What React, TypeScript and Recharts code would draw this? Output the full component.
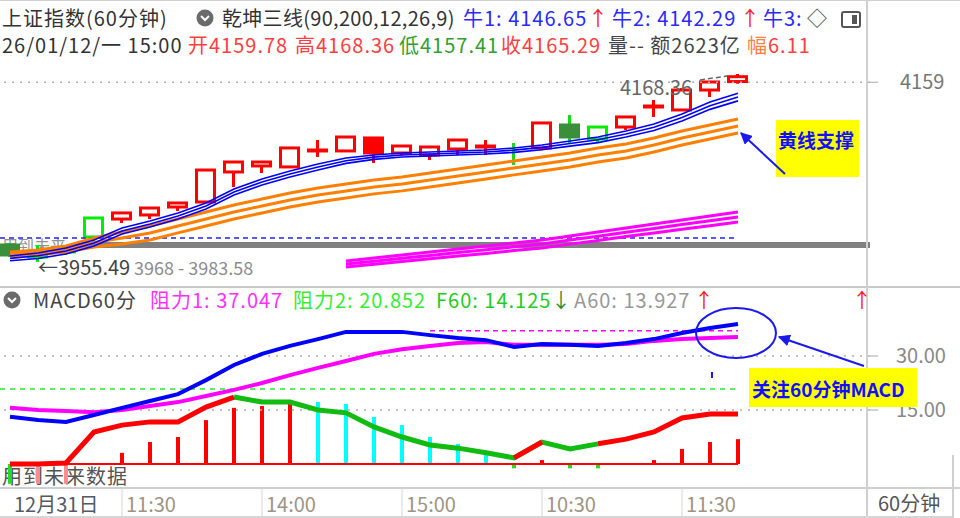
import React from 'react'
import {
  ComposedChart, Bar, Line, XAxis, YAxis, ReferenceLine, ReferenceArea, Cell
} from 'recharts'

const FONT = '"Noto Sans CJK SC", "Noto Sans", sans-serif'

// 60分钟K线，12/31 ~ 1/12
const opens = [3974.7, 3965.6, 3966.8, 3983.8, 4004.1, 4008.7, 4017.7, 4023.4, 4057.4, 4064.2, 4063.1, 4081.2, 4081.2, 4095.9, 4078.9, 4076.6, 4083.4, 4085.7, 4085.5, 4084.6, 4110.6, 4094.8, 4108.3, 4131.0, 4127.6, 4150.2, 4159.78]
const closes = [3963.4, 3961.1, 3969.0, 4005.3, 4011.0, 4016.6, 4022.3, 4059.6, 4068.7, 4068.7, 4084.6, 4082.3, 4097.0, 4078.9, 4086.8, 4085.7, 4093.6, 4086.8, 4085.0, 4112.9, 4097.0, 4108.3, 4119.7, 4132.1, 4150.2, 4159.3, 4165.29]
const highs = [3977.0, 3974.7, 3972.4, 4005.3, 4011.0, 4016.6, 4022.3, 4059.6, 4068.7, 4068.7, 4084.6, 4093.6, 4097.0, 4095.9, 4086.8, 4085.7, 4093.6, 4093.6, 4090.2, 4112.9, 4121.9, 4109.4, 4119.7, 4138.9, 4152.5, 4159.3, 4168.36]
const lows = [3961.1, 3955.49, 3963.4, 3978.1, 3999.6, 4004.1, 4013.2, 4023.0, 4040.4, 4056.2, 4063.0, 4074.4, 4081.0, 4067.6, 4076.0, 4071.0, 4076.6, 4076.6, 4065.3, 4082.0, 4090.2, 4091.4, 4105.0, 4119.7, 4127.4, 4142.3, 4157.41]
// up 红空心, upFill 红实心, dn 绿实心, dnHollow 绿空心, tick 只有影线
const kinds = ['dn', 'dnHollow', 'dnHollow', 'dnHollow', 'up', 'up', 'up', 'up', 'up', 'up', 'up', 'up', 'up', 'upFill', 'up', 'up', 'up', 'up', 'tick', 'up', 'dn', 'dnHollow', 'up', 'up', 'up', 'up', 'up']

// 乾坤三线：牛1/牛2/牛3（蓝），黄线（橙），底线（紫）
const blue1 = [3962.3, 3965.7, 3971.3, 3980.4, 3994.0, 4001.9, 4011.0, 4022.3, 4038.2, 4049.5, 4058.5, 4066.5, 4073.3, 4076.7, 4078.9, 4080.0, 4081.2, 4082.3, 4084.6, 4088.0, 4092.5, 4097.0, 4103.8, 4111.7, 4123.1, 4136.7, 4146.65]
const blue2 = [3959.6, 3962.5, 3967.9, 3977.0, 3990.6, 3998.5, 4007.6, 4018.9, 4034.8, 4046.1, 4055.1, 4063.1, 4070.2, 4074.2, 4076.6, 4077.7, 4078.9, 4080.0, 4082.1, 4085.3, 4089.6, 4093.8, 4100.4, 4108.0, 4119.1, 4132.5, 4142.29]
const blue3 = [3956.9, 3959.4, 3964.5, 3973.6, 3987.2, 3995.1, 4004.2, 4015.5, 4031.4, 4042.7, 4051.7, 4059.7, 4067.1, 4071.7, 4074.3, 4075.4, 4076.6, 4077.7, 4079.6, 4082.6, 4086.7, 4090.6, 4097.0, 4104.3, 4115.1, 4128.3, 4137.9]
const orange1 = [3966.8, 3969.1, 3973.6, 3982.7, 3989.5, 3996.2, 4004.2, 4012.1, 4020.0, 4026.8, 4033.6, 4039.3, 4043.8, 4048.4, 4051.8, 4056.3, 4060.8, 4065.3, 4069.9, 4074.4, 4078.9, 4084.6, 4089.1, 4095.9, 4103.8, 4110.6, 4117.4]
const orange2 = [3964.5, 3966.3, 3970.2, 3977.6, 3982.7, 3988.3, 3996.3, 4004.2, 4012.1, 4018.9, 4025.7, 4031.4, 4035.9, 4040.5, 4043.9, 4048.4, 4052.9, 4057.4, 4062.0, 4066.5, 4071.0, 4076.7, 4081.2, 4088.0, 4095.9, 4102.7, 4109.5]
const orange3 = [3962.2, 3963.5, 3966.8, 3972.5, 3975.9, 3980.4, 3988.4, 3996.3, 4004.2, 4011.0, 4017.8, 4023.5, 4028.0, 4032.6, 4036.0, 4040.5, 4045.0, 4049.5, 4054.1, 4058.6, 4063.1, 4068.8, 4073.3, 4080.1, 4088.0, 4094.8, 4101.6]
const pink1 = [null, null, null, null, null, null, null, null, null, null, null, null, 3956.6, 3960.0, 3963.4, 3966.8, 3970.2, 3973.6, 3977.0, 3980.4, 3984.9, 3989.5, 3994.0, 3998.5, 4003.1, 4007.6, 4012.1]
const pink2 = [null, null, null, null, null, null, null, null, null, null, null, null, 3953.2, 3956.4, 3959.7, 3962.9, 3966.2, 3969.4, 3972.7, 3975.9, 3980.3, 3984.7, 3989.1, 3993.4, 3997.8, 4002.1, 4006.4]
const pink3 = [null, null, null, null, null, null, null, null, null, null, null, null, 3949.8, 3952.8, 3956.0, 3959.0, 3962.2, 3965.2, 3968.4, 3971.4, 3975.7, 3979.9, 3984.2, 3988.3, 3992.5, 3996.6, 4000.7]
const supportLine = 3982.6
const grayBand = [3971.3, 3978.1]

// MACD60分
const dif = [13.1, 12.2, 11.7, 13.6, 15.6, 17.5, 19.4, 23.3, 27.5, 30.6, 32.8, 34.7, 36.7, 36.7, 36.7, 35.8, 35.0, 34.4, 32.5, 33.3, 33.1, 32.8, 33.6, 34.7, 36.4, 37.8, 38.9]
const dea = [15.6, 15.0, 14.7, 14.4, 15.0, 16.1, 17.2, 18.9, 20.6, 22.5, 24.7, 26.7, 28.6, 30.6, 31.9, 32.8, 33.6, 33.9, 33.1, 33.1, 33.1, 33.1, 33.3, 34.2, 34.7, 35.0, 35.3]
const hist = [-5.5, -5.5, -5.5, 0, 3.1, 6.1, 7.5, 12.2, 15.6, 16.1, 17.5, 17.2, 16.7, 13.1, 10.8, 7.5, 5.6, 2.5, -1.2, 1.1, -1.2, -1.2, 0, 1.1, 4.2, 6.1, 6.9]
const histKinds = ['g', 'p', 'p', 'r', 'r', 'r', 'r', 'r', 'r', 'r', 'r', 'c', 'c', 'c', 'c', 'c', 'c', 'c', 'g', 'r', 'g', 'g', 'r', 'r', 'r', 'r', 'r']
const powerUp = [0, 0, 0.3, 8.9, 10.8, 11.7, 11.7, 15.8, 18.6, null, null, null, null, null, null, null, null, null, 1.7, 6.1, null, 5.6, 6.9, 8.9, 12.8, 13.9, 13.9]
const powerDown = [null, null, null, null, null, null, null, null, 18.6, 17.2, 17.2, 15.0, 14.2, 10.3, 7.5, 5.3, 4.4, 3.1, 1.7, 6.1, 4.2, 5.6, null, null, null, null, null]
const resist1 = 37.047
const resist2 = 20.852

const TIME_TICKS_IDX = [4, 9, 14, 19, 24]
const TIME_LABELS = ['12月31日', '11:30', '14:00', '15:00', '10:30', '11:30']

const X_MIN = -10 / 28
const X_MAX = 860 / 28

const kRows = opens.map((o, i) => ({
  x: i, open: o, close: closes[i], high: highs[i], low: lows[i], kind: kinds[i],
  b1: blue1[i], b2: blue2[i], b3: blue3[i],
  o1: orange1[i], o2: orange2[i], o3: orange3[i],
  p1: pink1[i], p2: pink2[i], p3: pink3[i],
}))

const mRows = dif.map((d, i) => ({
  x: i, dif: d, dea: dea[i], hist: hist[i], hk: histKinds[i],
  up: powerUp[i], dn: powerDown[i],
}))

const CANDLE_STYLE: Record<string, { stroke: string; fill: string; wick: string }> = {
  up: { stroke: '#ff0000', fill: '#ffffff', wick: '#ff0000' },
  upFill: { stroke: '#ff0000', fill: '#ff0000', wick: '#ff0000' },
  dn: { stroke: '#3b8f3b', fill: '#3b8f3b', wick: '#11dd11' },
  dnHollow: { stroke: '#00ee00', fill: '#ffffff', wick: '#00ee00' },
  tick: { stroke: '#11dd11', fill: 'none', wick: '#11dd11' },
}

const HIST_COLOR: Record<string, string> = {
  r: '#ff0000', c: '#00ffff', g: '#22dd22', p: '#ff8c8c',
}

function Candle(props: any) {
  const { x, y, width, height, payload } = props
  const { open, close, high, low, kind } = payload
  const k = height / (high - low)
  const py = (v: number) => y + (high - v) * k
  const cx = x + width / 2
  const st = CANDLE_STYLE[kind]
  const top = py(Math.max(open, close))
  const bot = py(Math.min(open, close))
  return (
    <g>
      <line x1={cx} x2={cx} y1={y} y2={y + height} stroke={st.wick} strokeWidth={3} />
      {kind !== 'tick' && (
        <rect x={x + 1.5} y={top} width={width - 3} height={Math.max(bot - top, 1)}
          fill={st.fill} stroke={st.stroke} strokeWidth={3} />
      )}
    </g>
  )
}

function TimeTick(props: any) {
  const { x, y, payload } = props
  const i = TIME_TICKS_IDX.indexOf(payload.value)
  const first = i < 0
  const label = first ? TIME_LABELS[0] : TIME_LABELS[i + 1]
  return (
    <g>
      {!first && <line x1={x} x2={x} y1={y - 8} y2={y + 24} stroke="#d6d6d6" />}
      <text x={first ? x + 14 : x + 4} y={y + 8} dominantBaseline="central"
        fill={first ? '#555a66' : '#a09484'} fontSize={20}>{label}</text>
    </g>
  )
}

const S = (left: number, top: number, color: string, extra: any = {}) => ({
  position: 'absolute' as const, left, top, color, fontSize: 20, lineHeight: '22px',
  letterSpacing: '1px', whiteSpace: 'nowrap' as const, ...extra,
})

function Chevron({ left, top }: { left: number; top: number }) {
  return (
    <svg style={{ position: 'absolute', left, top }} width={18} height={18}>
      <circle cx={9} cy={9} r={8.5} fill="#6a6a6a" />
      <path d="M5,7 L9,11 L13,7" stroke="#fff" strokeWidth={2} fill="none" />
    </svg>
  )
}

export default function App() {
  const lineProps = { dot: false, isAnimationActive: false, connectNulls: false, activeDot: false } as any
  return (
    <div style={{ position: 'absolute', left: 0, top: 0, width: 960, height: 518, background: '#fff', fontFamily: FONT, overflow: 'hidden' }}>
      {/* 表头 */}
      <div style={{ position: 'absolute', left: 0, top: 0, width: 960, height: 1, background: '#d0d0d0' }} />
      <span style={S(2, 7, '#333')}>上证指数(60分钟)</span>
      <Chevron left={196} top={9} />
      <span style={S(222, 7, '#333', { letterSpacing: '0.3px' })}>乾坤三线(90,200,12,26,9)</span>
      <span style={S(463, 7, '#2a2aff')}>牛1: 4146.65</span>
      <span style={S(588, 7, '#ff2020')}>↑</span>
      <span style={S(612, 7, '#2a2aff')}>牛2: 4142.29</span>
      <span style={S(740, 7, '#ff2020')}>↑</span>
      <span style={S(763, 7, '#2a2aff')}>牛3:</span>
      <span style={S(807, 7, '#444')}>◇</span>
      <div style={{ position: 'absolute', left: 841, top: 11, width: 16, height: 13, border: '2px solid #555', borderRadius: 3 }}>
        <div style={{ position: 'absolute', right: 2, top: 2, width: 5, height: 9, background: '#555' }} />
      </div>

      <span style={S(2, 34, '#333')}>26/01/12/一 15:00</span>
      <span style={S(188, 34, '#ff4040')}>开4159.78</span>
      <span style={S(295, 34, '#ff4040')}>高4168.36</span>
      <span style={S(399, 34, '#2fa02f')}>低4157.41</span>
      <span style={S(501, 34, '#ff4040')}>收4165.29</span>
      <span style={S(608, 34, '#444')}>量-- 额2623亿</span>
      <span style={S(747, 34, '#ff4040')}><span style={{ color: '#ff8040' }}>幅</span>6.11</span>

      {/* 主图 */}
      <span style={S(2, 236, '#777', { opacity: 0.8, fontSize: 16, lineHeight: '18px', letterSpacing: 0 })}>用到未来</span>
      <div style={{ position: 'absolute', left: 0, top: 60 }}>
        <ComposedChart width={960} height={225} data={kRows} margin={{ top: 0, right: 0, bottom: 0, left: 0 }}>
          <XAxis dataKey="x" type="number" domain={[X_MIN, X_MAX]} hide allowDataOverflow />
          <YAxis orientation="right" width={90} domain={[3929.4, 4184.2]} allowDataOverflow
            ticks={[4159]} axisLine={false} tickLine={{ stroke: '#aaa' }} tickSize={8} tickMargin={22}
            tick={{ fill: '#777', fontSize: 20 }} />
          <ReferenceLine y={4159} stroke="#b0b0b0" strokeDasharray="2 6" strokeWidth={1.5} />
          <ReferenceArea x1={(75 - 10) / 28} x2={X_MAX} y1={grayBand[0]} y2={grayBand[1]}
            fill="#808080" fillOpacity={1} stroke="none" />
          <ReferenceLine segment={[{ x: X_MIN, y: supportLine }, { x: 26, y: supportLine }]}
            stroke="#2222ff" strokeDasharray="5 4" strokeWidth={1.5} />
          <Line dataKey="p1" stroke="#ff00ff" strokeWidth={3} {...lineProps} />
          <Line dataKey="p2" stroke="#ff00ff" strokeWidth={3} {...lineProps} />
          <Line dataKey="p3" stroke="#ff00ff" strokeWidth={3} {...lineProps} />
          <Line dataKey="o1" stroke="#ff8000" strokeWidth={3} {...lineProps} />
          <Line dataKey="o2" stroke="#ff8000" strokeWidth={3} {...lineProps} />
          <Line dataKey="o3" stroke="#ff8000" strokeWidth={3} {...lineProps} />
          <Line dataKey="b1" stroke="#0000ff" strokeWidth={1.6} {...lineProps} />
          <Line dataKey="b2" stroke="#0000ff" strokeWidth={1.6} {...lineProps} />
          <Line dataKey="b3" stroke="#0000ff" strokeWidth={1.6} {...lineProps} />
          <Bar dataKey={(d: any) => [d.low, d.high]} barSize={21} shape={Candle} isAnimationActive={false} />
        </ComposedChart>
      </div>
      <span style={S(38, 256, '#444', { letterSpacing: 0 })}>←3955.49</span>
      <span style={S(134, 256, '#666', { opacity: 0.75, fontSize: 18, letterSpacing: 0 })}>3968 - 3983.58</span>

      {/* 分隔线 */}
      <div style={{ position: 'absolute', left: 0, top: 286, width: 960, height: 2, background: '#c8c8c8' }} />
      <div style={{ position: 'absolute', left: 866, top: 0, width: 2, height: 518, background: '#cfcfcf' }} />

      {/* MACD 表头 */}
      <Chevron left={3} top={291} />
      <span style={S(33, 289, '#444')}>MACD60分</span>
      <span style={S(150, 289, '#ff30ff')}>阻力1: 37.047</span>
      <span style={S(293, 289, '#33ee33')}>阻力2: 20.852</span>
      <span style={S(436, 289, '#22cc22')}>F60: 14.125</span>
      <span style={S(551, 289, '#2e8b2e')}>↓</span>
      <span style={S(574, 289, '#999')}>A60: 13.927</span>
      <span style={S(694, 289, '#ff2020')}>↑</span>
      <span style={S(852, 289, '#ff2020')}>↑</span>

      <span style={S(2, 465, '#555')}>用到未来数据</span>
      <div style={{ position: 'absolute', left: 0, top: 310 }}>
        <ComposedChart width={960} height={208} data={mRows} margin={{ top: 0, right: 0, bottom: 0, left: 0 }}>
          <XAxis dataKey="x" type="number" domain={[X_MIN, X_MAX]} allowDataOverflow
            ticks={[X_MIN, ...TIME_TICKS_IDX]} interval={0} height={31}
            axisLine={false} tickLine={false} tick={<TimeTick />} />
          <YAxis orientation="right" width={90} domain={[-6.39, 42.78]} allowDataOverflow
            ticks={[15, 30]} tickFormatter={(v: number) => v.toFixed(2)}
            axisLine={false} tickLine={{ stroke: '#aaa' }} tickSize={8} tickMargin={18}
            tick={{ fill: '#888', fontSize: 20 }} />
          <ReferenceLine y={30} stroke="#b0b0b0" strokeDasharray="2 6" strokeWidth={1.5} />
          <ReferenceLine y={15} stroke="#b0b0b0" strokeDasharray="2 6" strokeWidth={1.5} />
          <ReferenceLine segment={[{ x: 15, y: resist1 }, { x: 26, y: resist1 }]}
            stroke="#ff00ff" strokeDasharray="5 4" strokeWidth={1.5} />
          <ReferenceLine segment={[{ x: X_MIN, y: resist2 }, { x: 26, y: resist2 }]}
            stroke="#22ee22" strokeDasharray="5 5" strokeWidth={1.5} />
          <ReferenceLine segment={[{ x: 0, y: 0 }, { x: 26, y: 0 }]} stroke="#ff0000" strokeWidth={2} />
          <Line dataKey="dn" stroke="#11bb11" strokeWidth={5} {...lineProps} />
          <Line dataKey="up" stroke="#ff0000" strokeWidth={5} {...lineProps} />
          <Bar dataKey="hist" barSize={4} isAnimationActive={false}>
            {mRows.map((r, i) => <Cell key={i} fill={HIST_COLOR[r.hk]} />)}
          </Bar>
          <Line dataKey="dea" stroke="#ff00ff" strokeWidth={4} {...lineProps} />
          <Line dataKey="dif" stroke="#0000ff" strokeWidth={4} {...lineProps} />
        </ComposedChart>
      </div>

      {/* 底部时间轴 */}
      <div style={{ position: 'absolute', left: 0, top: 487, width: 960, height: 2, background: '#cfcfcf' }} />
      <div style={{ position: 'absolute', left: 0, top: 516, width: 954, height: 2, background: '#d6d6d6' }} />
      <div style={{ position: 'absolute', left: 952, top: 455, width: 2, height: 63, background: '#cfcfcf' }} />
      <span style={S(878, 492, '#555', { letterSpacing: 0 })}>60分钟</span>

      {/* 标注 */}
      <svg style={{ position: 'absolute', left: 0, top: 0, pointerEvents: 'none' }} width={960} height={518}>
        <defs>
          <marker id="ah" viewBox="0 0 10 10" refX="9" refY="5" markerWidth="6" markerHeight="6" orient="auto">
            <path d="M0,0 L10,5 L0,10 z" fill="#1a1aee" />
          </marker>
        </defs>
        <text x={620} y={86} dominantBaseline="central" fill="#666" fontSize={20} fontFamily={FONT}>4168.36</text>
        <line x1={700} y1={80} x2={727} y2={76} stroke="#666" strokeWidth={1.5} strokeDasharray="5 3" />
        <rect x={776} y={120} width={83} height={57} fill="#ffff00" />
        <text x={778} y={139} dominantBaseline="central" fill="#1010ff" fontSize={19} fontWeight="bold" fontFamily={FONT}>黄线支撑</text>
        <line x1={785} y1={174} x2={741} y2={133} stroke="#1a1aee" strokeWidth={2} markerEnd="url(#ah)" />
        <ellipse cx={736} cy={333} rx={40} ry={25} fill="none" stroke="#1a1aee" strokeWidth={2} />
        <line x1={864} y1={366} x2={779} y2={337} stroke="#1a1aee" strokeWidth={2} markerEnd="url(#ah)" />
        <line x1={712} y1={372} x2={712} y2={378} stroke="#1a1aee" strokeWidth={2} />
        <rect x={749} y={368} width={168} height={39} fill="#ffff00" />
        <text x={752} y={388} dominantBaseline="central" fill="#1010ff" fontSize={19} fontWeight="bold" fontFamily={FONT}>关注60分钟MACD</text>
      </svg>
    </div>
  )
}
